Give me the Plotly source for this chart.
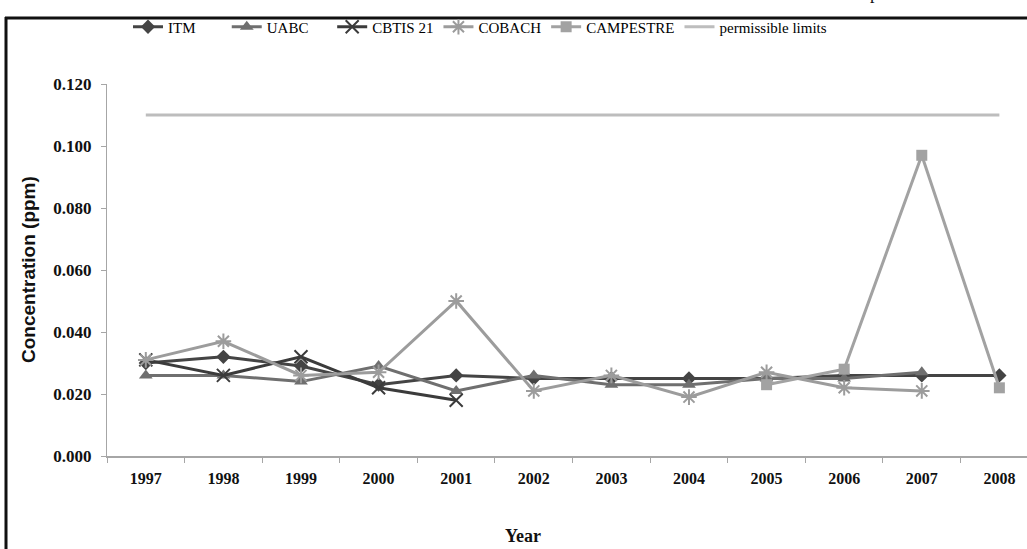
import plotly.graph_objects as go

# Sampling years (categorical x axis)
years = ["1997", "1998", "1999", "2000", "2001", "2002",
         "2003", "2004", "2005", "2006", "2007", "2008"]

# Concentration (ppm) per monitoring station; None = no measurement
itm = [0.030, 0.032, 0.029, 0.023, 0.026, 0.025, 0.025, 0.025, 0.025, 0.026, 0.026, 0.026]
uabc = [0.026, 0.026, 0.024, 0.029, 0.021, 0.026, 0.023, 0.023, 0.025, 0.025, 0.027, None]
cbtis21 = [0.031, 0.026, 0.032, 0.022, 0.018, None, None, None, None, None, None, None]
cobach = [0.031, 0.037, 0.026, 0.027, 0.050, 0.021, 0.026, 0.019, 0.027, 0.022, 0.021, None]
campestre = [None, None, None, None, None, None, None, None, 0.023, 0.028, 0.097, 0.022]
limit = [0.110] * len(years)

y_ticks = [0.000, 0.020, 0.040, 0.060, 0.080, 0.100, 0.120]

# Plot-area geometry in pixels (used for paper-coordinate conversions)
W, H = 1027, 549
L, R, T, B = 107, 0, 84, 93
PW = W - L - R
PH = H - T - B


def px_x(x):
    return (x - L) / PW


def px_y(y):
    return (H - B - y) / PH


NBSP = "\u00a0"
fig = go.Figure()

# (legend label, values, colour, marker style, trailing legend padding)
series = [
    ("ITM", itm, "#444444", dict(symbol="diamond", size=11), 7),
    ("UABC", uabc, "#6f6f6f", dict(symbol="triangle-up", size=12), 5),
    ("CBTIS 21", cbtis21, "#3b3b3b", dict(symbol="x-thin-open", size=13,
                                          line=dict(width=2, color="#3b3b3b")), 0),
    ("COBACH", cobach, "#9c9c9c", dict(symbol="asterisk-open", size=13,
                                       line=dict(width=2, color="#9c9c9c")), 0),
    ("CAMPESTRE", campestre, "#a2a2a2", dict(symbol="square", size=11), 0),
]

for name, vals, color, marker, pad in series:
    marker = dict(marker)
    marker["color"] = color
    fig.add_trace(go.Scatter(
        x=years, y=vals, name=name + NBSP * pad, mode="lines+markers",
        line=dict(color=color, width=3), marker=marker,
        connectgaps=False,
    ))

fig.add_trace(go.Scatter(
    x=years, y=limit, name="permissible limits", mode="lines",
    line=dict(color="#bdbdbd", width=3),
))

serif = "Liberation Serif, Times New Roman, serif"
sans = "Liberation Sans, Arial, sans-serif"

fig.update_layout(
    width=W, height=H,
    margin=dict(l=L, r=R, t=T, b=B, pad=0),
    paper_bgcolor="white",
    plot_bgcolor="white",
    showlegend=True,
    legend=dict(
        orientation="h",
        x=px_x(128), xanchor="left",
        y=px_y(27), yanchor="middle",
        font=dict(family=serif, size=15, color="#000000"),
        bgcolor="rgba(0,0,0,0)",
        itemwidth=30,
    ),
    xaxis=dict(
        type="category",
        categoryorder="array", categoryarray=years,
        range=[-0.5, 11.356],
        showgrid=False, zeroline=False,
        showline=True, linecolor="#a6a6a6", linewidth=2,
        ticks="outside", ticklen=5, tickcolor="#a6a6a6", tickwidth=1,
        tickson="boundaries",
        ticklabelstandoff=7,
        tickfont=dict(family=serif, size=16, color="#111111", weight="bold"),
    ),
    yaxis=dict(
        range=[0, 0.12],
        tickvals=y_ticks,
        tickformat=".3f",
        showgrid=False, zeroline=False,
        showline=True, linecolor="#a6a6a6", linewidth=1,
        ticks="outside", ticklen=5, tickcolor="#a6a6a6", tickwidth=1,
        ticklabelstandoff=6,
        tickfont=dict(family=serif, size=17, color="#111111", weight="bold"),
    ),
    annotations=[
        dict(text="Concentration (ppm)", textangle=-90,
             xref="paper", yref="paper", x=px_x(28), y=0.5,
             xanchor="center", yanchor="middle", showarrow=False,
             font=dict(family=sans, size=19, color="#111111", weight="bold")),
        dict(text="Year",
             xref="paper", yref="paper", x=px_x(523), y=px_y(536),
             xanchor="center", yanchor="middle", showarrow=False,
             font=dict(family=serif, size=18, color="#111111", weight="bold")),
        dict(text="p",
             xref="paper", yref="paper", x=px_x(874), y=px_y(5),
             xanchor="center", yanchor="bottom", showarrow=False,
             font=dict(family=serif, size=18, color="#111111")),
    ],
    shapes=[
        # outer frame: left and top rules
        dict(type="line", xref="paper", yref="paper",
             x0=px_x(6), x1=px_x(6), y0=px_y(17), y1=px_y(H + 5),
             line=dict(color="#111111", width=3)),
        dict(type="line", xref="paper", yref="paper",
             x0=px_x(5), x1=px_x(W + 5), y0=px_y(18), y1=px_y(18),
             line=dict(color="#111111", width=3)),
    ],
)

fig.write_html("out.html")
